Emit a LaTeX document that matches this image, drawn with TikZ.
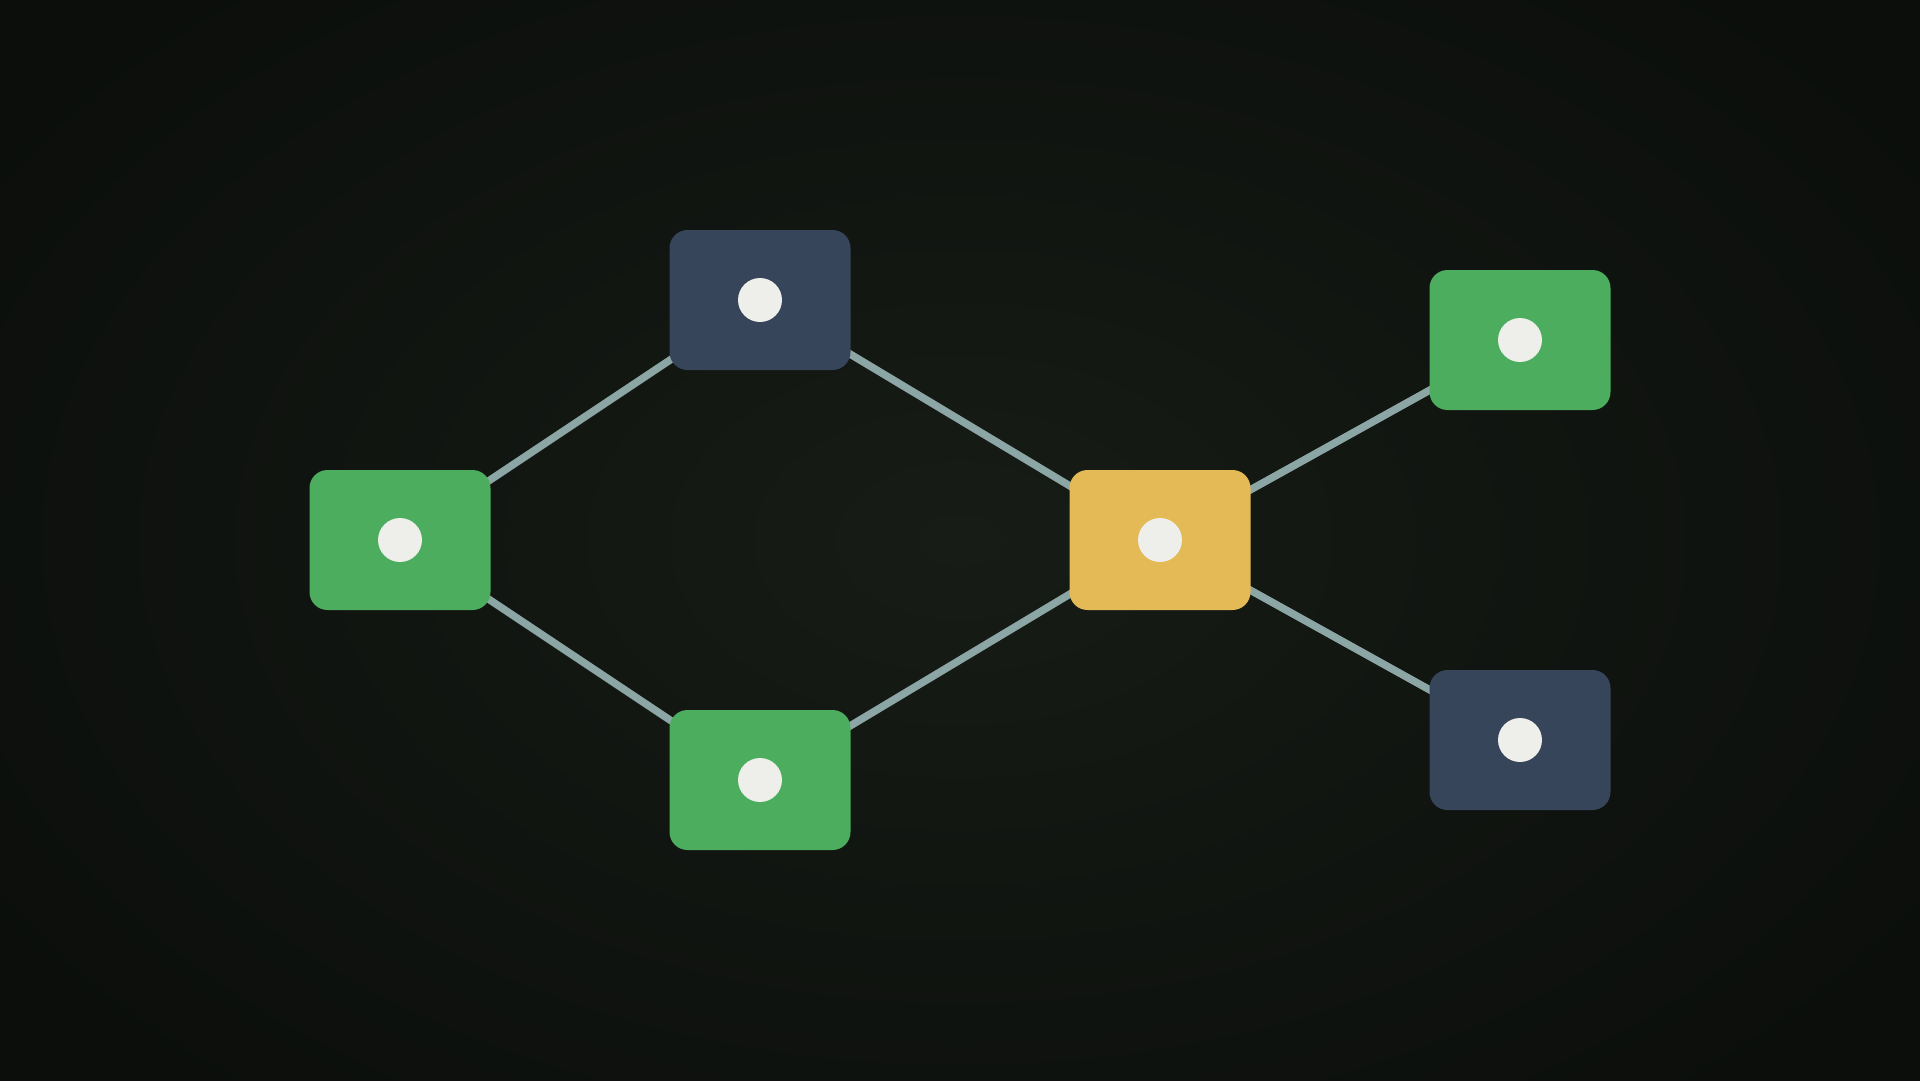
\documentclass[tikz,border=0pt]{standalone}
\pgfdeclarelayer{bglayer}
\pgfdeclarelayer{edgelayer}
\pgfsetlayers{bglayer,edgelayer,main}
\definecolor{bgin}{HTML}{171C16}
\definecolor{bgout}{HTML}{0B0E0B}
\definecolor{ngreen}{HTML}{4CAD5E}
\definecolor{nnavy}{HTML}{36455A}
\definecolor{nyellow}{HTML}{E4BA56}
\definecolor{ndot}{HTML}{EEEEEA}
\definecolor{nedge}{HTML}{8CA5A5}
\tikzset{
  box/.style={rectangle, rounded corners=18pt, minimum width=181pt, minimum height=140pt, inner sep=0pt, draw=none},
  dotmark/.style={circle, fill=ndot, minimum size=44pt, inner sep=0pt, draw=none},
  link/.style={draw=nedge, line width=7.5pt}
}
\begin{document}
\begin{tikzpicture}[x=1pt,y=-1pt]
\useasboundingbox (0,0) rectangle (1920,1080);
\begin{pgfonlayer}{bglayer}
\begin{scope}
\clip (0,0) rectangle (1920,1080);
\shade[inner color=bgin, outer color=bgout] (-200,-200) rectangle (2120,1280);
\end{scope}
\end{pgfonlayer}
\node[box, fill=ngreen] (a) at (400,540) {};
\node[box, fill=nnavy] (b) at (760,300) {};
\node[box, fill=ngreen] (c) at (760,780) {};
\node[box, fill=nyellow] (d) at (1160,540) {};
\node[box, fill=ngreen] (e) at (1520,340) {};
\node[box, fill=nnavy] (f) at (1520,740) {};
\node[dotmark] (a1) at (a.center) {};
\node[dotmark] (b1) at (b.center) {};
\node[dotmark] (c1) at (c.center) {};
\node[dotmark] (d1) at (d.center) {};
\node[dotmark] (e1) at (e.center) {};
\node[dotmark] (f1) at (f.center) {};
\begin{pgfonlayer}{edgelayer}
\draw[link] (a.center) -- (b.center);
\draw[link] (a.center) -- (c.center);
\draw[link] (b.center) -- (d.center);
\draw[link] (c.center) -- (d.center);
\draw[link] (d.center) -- (e.center);
\draw[link] (d.center) -- (f.center);
\end{pgfonlayer}
\end{tikzpicture}
\end{document}
